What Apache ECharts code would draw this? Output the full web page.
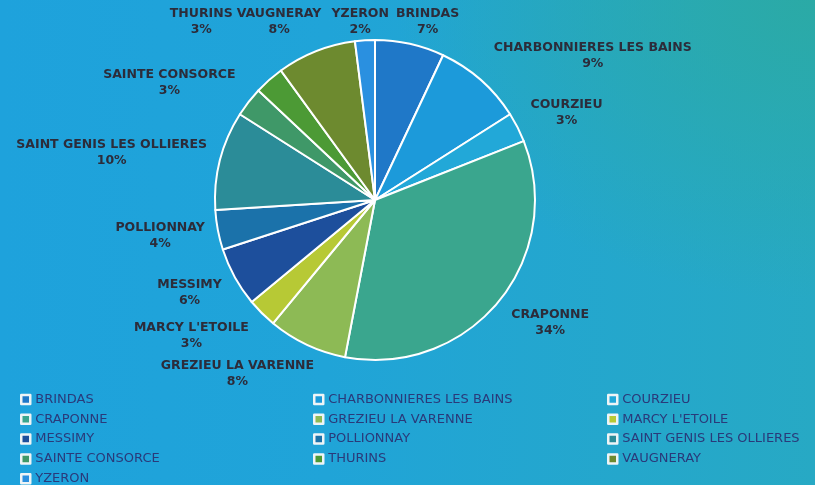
<!DOCTYPE html>
<html>
<head>
<meta charset="utf-8">
<script src="https://cdn.jsdelivr.net/npm/echarts@6/dist/echarts.min.js"></script>
<style>
html,body{margin:0;padding:0;width:815px;height:485px;overflow:hidden;}
body{background:radial-gradient(ellipse 420px 300px at 100% 0%, rgba(43,170,164,0.95) 0%, rgba(43,170,164,0) 100%), linear-gradient(90deg,#1ea2dc 0%,#20a4d8 40%,#27a9c4 100%);}
#c{width:815px;height:485px;}
</style>
</head>
<body>
<div id="c"></div>
<script>
const categories = ["BRINDAS","CHARBONNIERES LES BAINS","COURZIEU","CRAPONNE","GREZIEU LA VARENNE","MARCY L'ETOILE","MESSIMY","POLLIONNAY","SAINT GENIS LES OLLIERES","SAINTE CONSORCE","THURINS","VAUGNERAY","YZERON"];
const values = [7, 9, 3, 34, 8, 3, 6, 4, 10, 3, 3, 8, 2];
const colors = ["#1f78c8","#1c9ada","#22a8d8","#3aa68e","#8dba55","#b7c935","#1d4f9c","#1b72aa","#2b8c98","#3f9868","#4c9a35","#6d8a2f","#2a90e0"];
const legendCol1 = ["BRINDAS","CRAPONNE","MESSIMY","SAINTE CONSORCE","YZERON"];
const legendCol2 = ["CHARBONNIERES LES BAINS","GREZIEU LA VARENNE","POLLIONNAY","THURINS"];
const legendCol3 = ["COURZIEU","MARCY L'ETOILE","SAINT GENIS LES OLLIERES","VAUGNERAY"];

const chart = echarts.init(document.getElementById('c'));
const labelFont = "'DejaVu Sans', Verdana, sans-serif";
const LABEL_SIZE = 12.5, LINE_H = 16;
function legend(data, left){
  return {
    data: data, orient: 'vertical', left: left, top: 393, height: 140, padding: 0,
    itemWidth: 9, itemHeight: 9, itemGap: 6.8,
    icon: 'rect',
    itemStyle: {borderColor: '#eef4f6', borderWidth: 2.5},
    textStyle: {fontFamily: labelFont, fontSize: 13, color: '#2a3a7a', lineHeight: 12}
  };
}
chart.setOption({
  backgroundColor: 'transparent',
  color: colors,
  legend: [legend(legendCol1, 20), legend(legendCol2, 313), legend(legendCol3, 607)],
  series: [{
    type: 'pie',
    center: [375, 200],
    radius: 160,
    startAngle: 90,
    clockwise: true,
    percentPrecision: 0,
    avoidLabelOverlap: false,
    itemStyle: {borderColor: '#ffffff', borderWidth: 2},
    label: {
      show: true, position: 'outside',
      formatter: '{n|{b}}\n{n|{d}%}',
      rich: {
        n: {fontFamily: labelFont, fontSize: LABEL_SIZE, fontWeight: 'bold', color: '#2c2c3a', align: 'center', lineHeight: LINE_H}
      }
    },
    labelLine: {show: false, length: 20, length2: 8},
    emphasis: {disabled: true},
    data: categories.map((n, i) => ({name: n, value: values[i]}))
  }]
});

// Label placement derived from the pie's own computed sector layout.
(function placeLabels(){
  const data = chart.getModel().getSeriesByIndex(0).getData();
  const ctx = document.createElement('canvas').getContext('2d');
  ctx.font = 'bold ' + LABEL_SIZE + 'px ' + labelFont;
  const total = values.reduce((a, b) => a + b, 0);
  const gap = 2, minY = 22, maxY = 470;
  const items = [];
  for (let i = 0; i < data.count(); i++) {
    const L = data.getItemLayout(i);
    const m = (L.startAngle + L.endAngle) / 2;
    const sx = Math.cos(m), cyv = -Math.sin(m);
    const px = L.cx + L.r * Math.cos(m), py = L.cy + L.r * Math.sin(m);
    const pct = Math.round(values[i] / total * 100) + '%';
    const w = Math.max(ctx.measureText(categories[i]).width, ctx.measureText(pct).width);
    const hw = w / 2 + 1, hh = LINE_H;
    const sign = sx >= 0 ? 1 : -1;
    const f = Math.min(1, Math.abs(sx) / 0.55);
    items.push({i: i, v: values[i], cy: L.cy, x: px + sign * (hw + 12) * f, y: Math.max(minY, py - 32 * cyv), hw: hw, hh: hh});
  }
  const overlap = (a, b) => Math.abs(a.x - b.x) < a.hw + b.hw + gap && Math.abs(a.y - b.y) < a.hh + b.hh + gap;
  const order = items.slice().sort((a, b) => b.v - a.v || a.i - b.i);
  const placed = [];
  for (const it of order) {
    for (let k = 0; k < 30; k++) {
      const p = placed.find(q => overlap(it, q));
      if (!p) break;
      if (it.y < it.cy) {
        const ny = p.y - p.hh - gap - it.hh;
        if (ny >= minY) { it.y = ny; continue; }
      } else {
        const ny = p.y + p.hh + gap + it.hh;
        if (ny <= maxY) { it.y = ny; continue; }
      }
      it.x = it.x >= p.x ? p.x + p.hw + gap + it.hw : p.x - p.hw - gap - it.hw;
      if (it.y < it.cy) it.y = Math.max(minY, Math.min(it.y, p.y));
    }
    placed.push(it);
  }
  const pos = [];
  items.forEach(it => { pos[it.i] = it; });
  chart.setOption({series: [{
    labelLayout: function (params) {
      const it = pos[params.dataIndex];
      return {x: it.x, y: it.y, align: 'center', verticalAlign: 'middle'};
    }
  }]});
})();
</script>
</body>
</html>
